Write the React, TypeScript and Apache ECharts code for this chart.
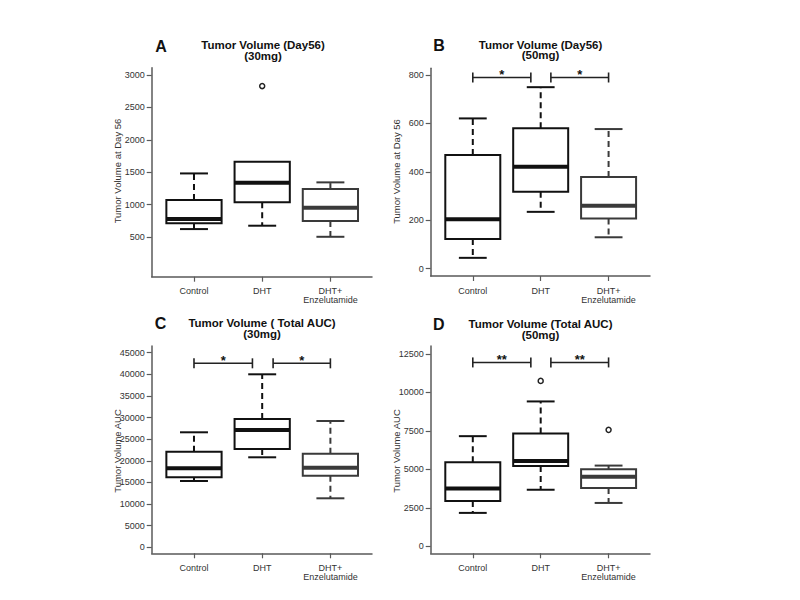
import React, { useEffect, useRef } from 'react';
import * as echarts from 'echarts';

// ---------- data ----------
const categories = ['Control', 'DHT', 'DHT+\nEnzelutamide'];

// each row: [lower whisker, Q1, median, Q3, upper whisker]
const boxA = [
  [622, 711, 778, 1069, 1481],
  [674, 1035, 1337, 1661, 1661],
  [503, 745, 951, 1239, 1343],
];
const outliersA = [[2, 2829]];
const bracketsA: any[] = [];
const ticksA = [500, 1000, 1500, 2000, 2500, 3000];

const boxB = [
  [45, 123, 204, 470, 621],
  [235, 318, 421, 580, 750],
  [130, 208, 260, 379, 577],
];
const outliersB: number[][] = [];
const bracketsB = [
  [1, 1.855, 790, '*'],
  [2.15, 3, 790, '*'],
];
const ticksB = [0, 200, 400, 600, 800];

const boxC = [
  [15333, 16189, 18270, 22109, 26596],
  [20814, 22734, 27128, 29672, 40009],
  [11332, 16559, 18409, 21647, 29209],
];
const outliersC: number[][] = [];
const bracketsC = [
  [1, 1.857, 42550, '*'],
  [2.16, 3, 42550, '*'],
];
const ticksC = [0, 5000, 10000, 15000, 20000, 25000, 30000, 35000, 40000, 45000];

const boxD = [
  [2172, 2948, 3761, 5464, 7161],
  [3677, 5226, 5548, 7335, 9419],
  [2819, 3787, 4516, 5010, 5248],
];
const outliersD = [
  [2, 10755],
  [3, 7570],
];
const bracketsD = [
  [1, 1.855, 11955, '**'],
  [2.15, 3, 11955, '**'],
];
const ticksD = [0, 2500, 5000, 7500, 10000, 12500];

const titlesText = [
  'Tumor Volume (Day56)\n(30mg)',
  'Tumor Volume (Day56)\n(50mg)',
  'Tumor Volume ( Total AUC)\n(30mg)',
  'Tumor Volume (Total AUC)\n(50mg)',
];
const letters = ['A', 'B', 'C', 'D'];
const yNames = ['Tumor Volume at Day 56', 'Tumor Volume at Day 56', 'Tumor Volume AUC', 'Tumor Volume AUC'];

// ---------- layout / style ----------
const FONT = '"Liberation Sans", Arial, Helvetica, sans-serif';
const BOX_W = 0.81;
const CAP_W = 0.41;

const grids = [
  { left: 151.7, top: 67.7, width: 220.3, height: 209 },
  { left: 430.7, top: 68.3, width: 219.3, height: 207.7 },
  { left: 151.7, top: 346, width: 220.3, height: 207.3 },
  { left: 430.7, top: 346, width: 219.3, height: 207.3 },
];
const yRanges = [
  [-113, 3113],
  [-30, 828],
  [-1388, 46554],
  [-455, 13023],
];
const titlePos = [
  [263, 50.5],
  [540.5, 50],
  [262, 328.3],
  [540.5, 329.3],
];
const letterPos = [
  [161, 46],
  [439, 45],
  [160.5, 323],
  [438.7, 324],
];
const yNamePos = [
  [117.7, 171],
  [396.7, 171.5],
  [117.5, 451],
  [396, 451],
];

const boxes = [boxA, boxB, boxC, boxD];
const outliers = [outliersA, outliersB, outliersC, outliersD];
const brackets = [bracketsA, bracketsB, bracketsC, bracketsD];
const ticks = [ticksA, ticksB, ticksC, ticksD];

const AXIS_COLOR = '#5a5a5a';

function renderBox(params: any, api: any) {
  const x = api.value(0);
  const low = api.value(1);
  const q1 = api.value(2);
  const med = api.value(3);
  const q3 = api.value(4);
  const high = api.value(5);
  const color = params.dataIndex === 2 ? '#3a3a3a' : '#111';
  const halfBox = api.size([BOX_W, 0])[0] / 2;
  const halfCap = api.size([CAP_W, 0])[0] / 2;
  const cx = api.coord([x, q1])[0];
  const yLow = api.coord([x, low])[1];
  const yQ1 = api.coord([x, q1])[1];
  const yMed = api.coord([x, med])[1];
  const yQ3 = api.coord([x, q3])[1];
  const yHigh = api.coord([x, high])[1];
  const children: any[] = [];
  const dashed = { stroke: color, lineWidth: 2, lineDash: [6, 4] };
  const solid = { stroke: color, lineWidth: 2 };
  if (low < q1) {
    children.push({ type: 'line', shape: { x1: cx, y1: yQ1, x2: cx, y2: yLow }, style: dashed });
    children.push({ type: 'line', shape: { x1: cx - halfCap, y1: yLow, x2: cx + halfCap, y2: yLow }, style: solid });
  }
  if (high > q3) {
    children.push({ type: 'line', shape: { x1: cx, y1: yQ3, x2: cx, y2: yHigh }, style: dashed });
    children.push({ type: 'line', shape: { x1: cx - halfCap, y1: yHigh, x2: cx + halfCap, y2: yHigh }, style: solid });
  }
  children.push({
    type: 'rect',
    shape: { x: cx - halfBox, y: yQ3, width: halfBox * 2, height: yQ1 - yQ3 },
    style: { fill: '#fff', stroke: color, lineWidth: 2 },
  });
  children.push({
    type: 'line',
    shape: { x1: cx - halfBox, y1: yMed, x2: cx + halfBox, y2: yMed },
    style: { stroke: color, lineWidth: 4 },
  });
  return { type: 'group', children };
}

function makeBracketRenderer(list: any[]) {
  return (params: any, api: any) => {
    const p1 = api.coord([api.value(0), api.value(2)]);
    const p2 = api.coord([api.value(1), api.value(2)]);
    const label = list[params.dataIndex][3];
    const st = { stroke: '#222', lineWidth: 1.6 };
    return {
      type: 'group',
      children: [
        { type: 'line', shape: { x1: p1[0], y1: p1[1], x2: p2[0], y2: p2[1] }, style: st },
        { type: 'line', shape: { x1: p1[0], y1: p1[1] - 5, x2: p1[0], y2: p1[1] + 5 }, style: st },
        { type: 'line', shape: { x1: p2[0], y1: p2[1] - 5, x2: p2[0], y2: p2[1] + 5 }, style: st },
        {
          type: 'text',
          x: (p1[0] + p2[0]) / 2,
          y: p1[1] - 3,
          style: {
            text: label,
            font: `bold 13px ${FONT}`,
            fill: '#111',
            textAlign: 'center',
            textVerticalAlign: 'middle',
          },
        },
      ],
    };
  };
}

function buildOption() {
  const xAxis = grids.map((_, i) => ({
    type: 'value',
    gridIndex: i,
    min: 0.38,
    max: 3.61,
    splitLine: { show: false },
    axisLine: { show: true, onZero: false, lineStyle: { color: AXIS_COLOR, width: 1.5 } },
    axisTick: { show: true, length: 5, customValues: [1, 2, 3], lineStyle: { color: AXIS_COLOR, width: 1.2 } },
    axisLabel: {
      customValues: [1, 2, 3],
      formatter: (v: number) => categories[Math.round(v) - 1] || '',
      fontSize: 9,
      lineHeight: 9,
      margin: 10,
      color: '#333',
      fontFamily: FONT,
    },
  }));
  const yAxis = grids.map((_, i) => ({
    type: 'value',
    gridIndex: i,
    min: yRanges[i][0],
    max: yRanges[i][1],
    splitLine: { show: false },
    axisLine: { show: true, onZero: false, lineStyle: { color: AXIS_COLOR, width: 1.5 } },
    axisTick: { show: true, length: 5, customValues: ticks[i], lineStyle: { color: AXIS_COLOR, width: 1.2 } },
    axisLabel: {
      customValues: ticks[i],
      formatter: (v: number) => String(v),
      fontSize: 9,
      margin: 7,
      color: '#333',
      fontFamily: FONT,
    },
  }));
  const series: any[] = [];
  grids.forEach((_, i) => {
    series.push({
      type: 'custom',
      xAxisIndex: i,
      yAxisIndex: i,
      renderItem: renderBox,
      encode: { x: 0, y: [1, 2, 3, 4, 5] },
      data: boxes[i].map((b, k) => [k + 1, ...b]),
      silent: true,
    });
    if (outliers[i].length) {
      series.push({
        type: 'scatter',
        xAxisIndex: i,
        yAxisIndex: i,
        symbol: 'circle',
        symbolSize: 5,
        itemStyle: { color: '#fff', borderColor: '#222', borderWidth: 1.5, opacity: 1 },
        data: outliers[i],
        silent: true,
      });
    }
    if (brackets[i].length) {
      series.push({
        type: 'custom',
        xAxisIndex: i,
        yAxisIndex: i,
        renderItem: makeBracketRenderer(brackets[i]),
        encode: { x: [0, 1], y: 2 },
        data: brackets[i].map((b: any[]) => [b[0], b[1], b[2]]),
        silent: true,
      });
    }
  });

  const graphic: any[] = [];
  grids.forEach((_, i) => {
    graphic.push({
      type: 'text',
      x: titlePos[i][0],
      y: titlePos[i][1],
      style: {
        text: titlesText[i],
        font: `bold 11.5px ${FONT}`,
        lineHeight: 10.5,
        fill: '#111',
        textAlign: 'center',
        textVerticalAlign: 'middle',
      },
    });
    graphic.push({
      type: 'text',
      x: letterPos[i][0],
      y: letterPos[i][1],
      style: {
        text: letters[i],
        font: `bold 16px ${FONT}`,
        fill: '#111',
        textAlign: 'center',
        textVerticalAlign: 'middle',
      },
    });
    graphic.push({
      type: 'text',
      x: yNamePos[i][0],
      y: yNamePos[i][1],
      rotation: Math.PI / 2,
      style: {
        text: yNames[i],
        font: `9.5px ${FONT}`,
        fill: '#333',
        textAlign: 'center',
        textVerticalAlign: 'middle',
      },
    });
  });

  return {
    animation: false,
    backgroundColor: '#fff',
    grid: grids,
    xAxis,
    yAxis,
    series,
    graphic,
  };
}

export default function App() {
  const ref = useRef<HTMLDivElement>(null);
  useEffect(() => {
    if (!ref.current) return;
    const chart = echarts.init(ref.current, undefined, { renderer: 'svg' });
    chart.setOption(buildOption() as any);
    return () => chart.dispose();
  }, []);
  return (
    <div
      ref={ref}
      style={{ position: 'fixed', left: 0, top: 0, width: 800, height: 600, background: '#fff' }}
    />
  );
}
